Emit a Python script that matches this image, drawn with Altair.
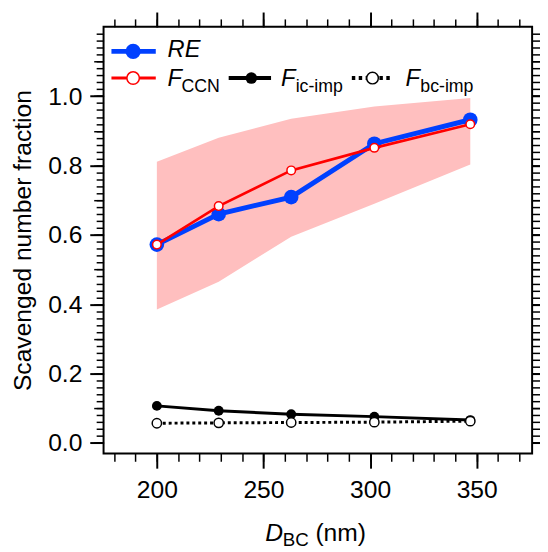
import altair as alt
import pandas as pd

# ---- data ----
d_bc = [200, 229, 263, 302, 347]
re_vals = [0.572, 0.660, 0.709, 0.863, 0.932]
f_ccn = [0.572, 0.683, 0.786, 0.851, 0.919]
f_ccn_lo = [0.385, 0.465, 0.595, 0.690, 0.803]
f_ccn_hi = [0.811, 0.880, 0.935, 0.970, 0.995]
f_ic_imp = [0.107, 0.093, 0.083, 0.076, 0.066]
f_bc_imp = [0.057, 0.058, 0.059, 0.060, 0.063]

# ---- tick positions ----
x_major = [200, 250, 300, 350]
x_minor = [180, 190, 200, 210, 220, 230, 240, 250, 260, 270, 280, 290,
           300, 310, 320, 330, 340, 350, 360, 370]
y_major = [0.0, 0.2, 0.4, 0.6, 0.8, 1.0]
y_medium = [0.0, 0.1, 0.2, 0.3, 0.4, 0.5, 0.6, 0.7, 0.8, 0.9, 1.0, 1.1]
y_minor = [round(0.02 * i, 2) for i in range(60)]

FONT = "Liberation Sans"
BLUE = "#0040ff"
RED = "#ff0000"
BAND = "#ffbfbf"

df = pd.DataFrame({
    "d_bc": d_bc, "re": re_vals, "fccn": f_ccn, "lo": f_ccn_lo,
    "hi": f_ccn_hi, "fic": f_ic_imp, "fbc": f_bc_imp,
})
one = pd.DataFrame({"k": [0]})

xs = alt.Scale(domain=[175, 376], nice=False, zero=False)
ys = alt.Scale(domain=[-0.03, 1.2], nice=False, zero=False)


def tick_axis(orient, values, size, width):
    return alt.Axis(orient=orient, values=values, tickSize=size, tickWidth=width,
                    tickColor="black", labels=False, domain=False, grid=False,
                    title="")


main_x = alt.Axis(orient="bottom", values=x_major, tickSize=15, tickWidth=2,
                  tickColor="black", labelFont=FONT, labelFontSize=25,
                  labelColor="black", labelPadding=10, domain=False, grid=False,
                  title="", format="d")
main_y = alt.Axis(orient="left", values=y_major, tickSize=14, tickWidth=2,
                  tickColor="black", labelFont=FONT, labelFontSize=25,
                  labelColor="black", labelPadding=8, domain=False, grid=False,
                  format=".1f", title="Scavenged number fraction",
                  titleFont=FONT, titleFontSize=25, titleFontWeight="normal",
                  titleColor="black", titlePadding=12)

band = alt.Chart(df).mark_area(color=BAND, opacity=1).encode(
    x=alt.X("d_bc:Q", scale=xs, axis=main_x),
    y=alt.Y("lo:Q", scale=ys, axis=main_y),
    y2="hi:Q",
)

axis_layers = []
for orient, vals, size, w in [("bottom", x_minor, 8, 1.5), ("top", x_minor, 8, 1.5),
                              ("top", x_major, 15, 2)]:
    axis_layers.append(alt.Chart(df).mark_point(opacity=0).encode(
        x=alt.X("d_bc:Q", scale=xs, axis=tick_axis(orient, vals, size, w)),
        y=alt.Y("re:Q", scale=ys, axis=None)))
for orient, vals, size, w in [("left", y_minor, 7.5, 1.5), ("left", y_medium, 10, 1.5),
                              ("right", y_minor, 7.5, 1.5), ("right", y_medium, 10, 1.5),
                              ("right", y_major, 14, 2)]:
    axis_layers.append(alt.Chart(df).mark_point(opacity=0).encode(
        x=alt.X("d_bc:Q", scale=xs, axis=None),
        y=alt.Y("re:Q", scale=ys, axis=tick_axis(orient, vals, size, w))))


def enc(field):
    return dict(x=alt.X("d_bc:Q", scale=xs, axis=None),
                y=alt.Y(f"{field}:Q", scale=ys, axis=None))


fic_line = alt.Chart(df).mark_line(color="black", strokeWidth=3).encode(**enc("fic"))
fic_pts = alt.Chart(df).mark_point(filled=True, shape="circle", size=100, color="black",
                                   opacity=1).encode(**enc("fic"))
fbc_line = alt.Chart(df).mark_line(color="black", strokeWidth=3,
                                   strokeDash=[3, 3]).encode(**enc("fbc"))
fbc_pts = alt.Chart(df).mark_point(filled=True, shape="circle", size=90, fill="white",
                                   stroke="black", strokeWidth=1.5,
                                   opacity=1).encode(**enc("fbc"))
re_line = alt.Chart(df).mark_line(color=BLUE, strokeWidth=5).encode(**enc("re"))
re_pts = alt.Chart(df).mark_point(filled=True, shape="circle", size=220, color=BLUE,
                                  opacity=1).encode(**enc("re"))
ccn_line = alt.Chart(df).mark_line(color=RED, strokeWidth=2.7).encode(**enc("fccn"))
ccn_pts = alt.Chart(df).mark_point(filled=True, shape="circle", size=75, fill="white",
                                   stroke=RED, strokeWidth=1.5,
                                   opacity=1).encode(**enc("fccn"))


# ---- hand-made legend and x title (pixel positions in the plot area) ----
def seg(x1, x2, y, color, width, dash=None):
    kw = dict(color=color, strokeWidth=width)
    if dash:
        kw["strokeDash"] = dash
    return alt.Chart(one).mark_rule(**kw).encode(
        x=alt.value(x1), x2=alt.value(x2), y=alt.value(y))


def dot(x, y, size, fill, stroke, sw=1.5):
    return alt.Chart(one).mark_point(filled=True, shape="circle", size=size, fill=fill,
                                     stroke=stroke, strokeWidth=sw, opacity=1).encode(
        x=alt.value(x), y=alt.value(y))


def txt(x, y, s, size, italic=False):
    kw = dict(text=s, font=FONT, fontSize=size, align="left", baseline="alphabetic",
              color="black")
    if italic:
        kw["fontStyle"] = "italic"
    return alt.Chart(one).mark_text(**kw).encode(x=alt.value(x), y=alt.value(y))


legend = [
    seg(8, 53, 25, BLUE, 4.7), dot(30, 25, 240, BLUE, BLUE, 0),
    txt(65, 31, "RE", 24, True),
    seg(8, 53, 52, RED, 3), dot(30, 52, 160, "white", RED, 1.5),
    txt(65, 59.7, "F", 24, True), txt(79, 66, "CCN", 18),
    seg(127, 170, 52, "black", 4), dot(150, 52, 140, "black", "black", 0),
    txt(180, 59.7, "F", 24, True), txt(195, 66, "ic-imp", 18),
    seg(252, 293, 52, "black", 4, [3.5, 3.5]), dot(273, 52, 140, "white", "black", 1.5),
    txt(306.5, 59.7, "F", 24, True), txt(321.5, 66, "bc-imp", 18),
]
xtitle = [
    txt(164, 521.7, "D", 25, True), txt(182, 527, "BC", 19), txt(215, 521.7, "(nm)", 25),
]

chart = alt.layer(
    band, *axis_layers, fic_line, fic_pts, fbc_line, fbc_pts,
    re_line, re_pts, ccn_line, ccn_pts, *legend, *xtitle,
).resolve_axis(x="independent", y="independent").properties(
    width=435, height=433,
    padding={"left": 97, "top": 15, "right": 8, "bottom": 96},
    autosize=alt.AutoSizeParams(type="none"),
    background="white",
).configure_view(stroke="black", strokeWidth=2)

chart.save("out.html", embed_options={"renderer": "svg", "actions": False})
